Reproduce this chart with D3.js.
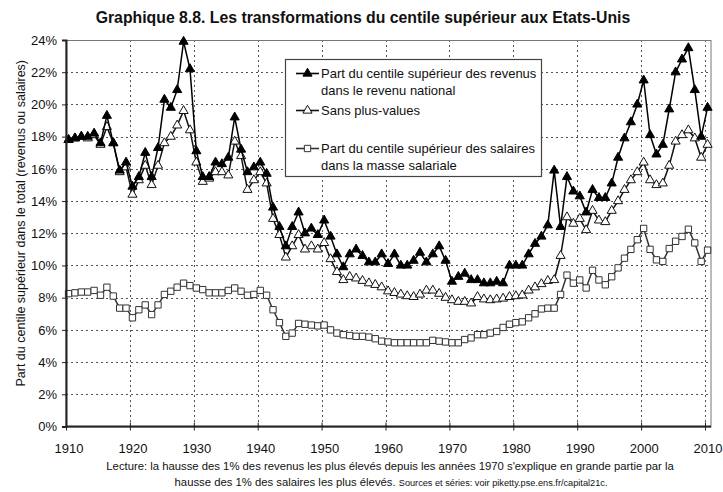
<!DOCTYPE html>
<html><head><meta charset="utf-8">
<script src="https://cdn.jsdelivr.net/npm/d3@7/dist/d3.min.js"></script>
<style>
body{margin:0;background:#fff}
svg{display:block;font-family:"Liberation Sans",Arial,sans-serif}
</style>
</head><body>
<svg id="chart" width="723" height="492"></svg>
<script>
// ---------- DATA ----------
const startYear = 1910, endYear = 2010;
const years = d3.range(startYear, endYear + 1);

// Part du centile supérieur des revenus dans le revenu national (%)
const topIncome = [
 17.8,17.9,18.0,18.0,18.2,17.6,19.3,17.6,15.9,16.4,
 14.9,15.5,17.0,15.5,17.3,20.3,19.8,20.9,23.9,22.2,
 17.1,15.5,15.5,16.4,16.3,16.7,19.2,17.2,15.8,16.1,
 16.4,15.7,13.6,12.4,11.2,12.4,13.3,12.0,12.3,11.9,
 12.8,11.8,10.7,9.9,10.7,11.0,10.6,10.2,10.2,10.7,
 10.1,10.7,10.0,10.0,10.3,10.8,10.2,10.7,11.2,10.3,
 9.0,9.3,9.5,9.1,9.1,8.9,8.9,9.0,8.9,10.0,
 10.0,10.0,10.7,11.35,11.8,12.5,15.9,12.4,15.5,14.6,
 14.3,13.3,14.7,14.2,14.2,15.1,16.7,17.9,18.9,20.0,
 21.5,18.1,16.9,17.5,19.7,22.0,22.8,23.5,20.9,18.0,
 19.8
];
// Sans plus-values (%)
const noCapitalGains = [
 17.8,17.9,18.0,17.9,18.1,17.5,18.6,17.6,15.8,16.1,
 14.4,15.3,16.2,15.0,16.2,17.6,18.0,18.7,19.6,18.4,
 16.4,15.2,15.4,15.8,15.8,15.6,17.7,16.8,14.7,15.3,
 15.8,15.1,12.9,11.9,10.5,11.2,11.9,11.0,11.2,11.0,
 11.4,10.4,9.6,9.1,9.3,9.2,9.05,8.9,8.8,8.65,
 8.4,8.3,8.2,8.1,8.05,8.2,8.45,8.45,8.25,8.0,
 7.85,7.75,7.75,7.65,8.05,7.9,7.85,7.9,7.95,8.05,
 8.1,8.15,8.45,8.65,8.85,9.05,9.1,10.6,13.0,12.6,
 12.9,12.2,13.4,12.8,12.7,13.4,14.0,14.7,15.3,15.8,
 16.4,15.3,15.0,15.1,16.2,17.7,18.1,18.4,17.9,16.7,
 17.5
];
// Part du centile supérieur des salaires dans la masse salariale (%)
const topWages = [
 8.25,8.3,8.35,8.35,8.45,8.15,8.65,8.1,7.35,7.35,
 6.75,7.25,7.55,6.95,7.55,8.2,8.4,8.65,8.9,8.75,
 8.6,8.5,8.3,8.3,8.3,8.45,8.6,8.4,8.15,8.2,
 8.45,8.15,7.25,6.45,5.6,5.8,6.4,6.35,6.3,6.25,
 6.3,6.0,5.8,5.7,5.65,5.6,5.6,5.55,5.45,5.3,
 5.25,5.2,5.2,5.2,5.2,5.2,5.2,5.35,5.3,5.25,
 5.2,5.2,5.4,5.5,5.7,5.7,5.8,5.9,6.15,6.35,
 6.45,6.5,6.75,7.0,7.3,7.35,7.35,8.2,9.4,8.9,
 9.1,8.6,9.7,9.1,8.8,9.3,9.85,10.45,11.0,11.6,
 12.3,11.0,10.35,10.25,11.05,11.5,11.8,12.25,11.4,10.25,
 10.95
];

const yTickValues = [0,2,4,6,8,10,12,14,16,18,20,22,24];
const xTickValues = [1910,1920,1930,1940,1950,1960,1970,1980,1990,2000,2010];

const titleText = "Graphique 8.8. Les transformations du centile supérieur aux Etats-Unis";
const yAxisTitle = "Part du centile supérieur dans le total (revenus ou salaires)";
const captionLine1 = "Lecture: la hausse des 1% des revenus les plus élevés depuis les années 1970 s'explique en grande partie par la";
const captionLine2a = "hausse des 1% des salaires les plus élevés. ";
const captionLine2b = "Sources et séries: voir piketty.pse.ens.fr/capital21c.";

const legendLabels = [
  ["Part du centile supérieur des revenus", "dans le revenu national"],
  ["Sans plus-values"],
  ["Part du centile supérieur des salaires", "dans la masse salariale"]
];

// ---------- LAYOUT ----------
const svg = d3.select("#chart");
const plot = {left: 66, right: 711, top: 40, bottom: 426.5};
const x = d3.scaleLinear().domain([1910, 2010]).range([66, 705]);
const catOffset = 0.4; // markers sit slightly right of the decade gridlines
const xd = yr => x(yr + catOffset);
const y = d3.scaleLinear().domain([0, 24]).range([plot.bottom, plot.top]);

// title
svg.append("text").attr("x", 363).attr("y", 23).attr("text-anchor", "middle")
  .attr("font-weight", "bold").attr("font-size", 15.8).attr("fill", "#111").text(titleText);

// gridlines
const grid = svg.append("g").attr("stroke", "#555").attr("stroke-width", 1).attr("stroke-dasharray", "2,3");
grid.selectAll("line.h").data(yTickValues.filter(v => v > 0 && v < 24)).join("line")
  .attr("x1", plot.left).attr("x2", plot.right)
  .attr("y1", d => Math.round(y(d)) + 0.5).attr("y2", d => Math.round(y(d)) + 0.5);
grid.selectAll("line.v").data(xTickValues.filter(v => v > 1910)).join("line")
  .attr("y1", plot.top).attr("y2", plot.bottom)
  .attr("x1", d => Math.round(x(d)) + 0.5).attr("x2", d => Math.round(x(d)) + 0.5);

// plot frame (top/right thin)
svg.append("rect").attr("x", plot.left).attr("y", plot.top + 0.5)
  .attr("width", plot.right - plot.left).attr("height", plot.bottom - plot.top)
  .attr("fill", "none").attr("stroke", "#777").attr("stroke-width", 1);

// series
const series = [
  {values: topWages, symbol: d3.symbolSquare, size: 40, fill: "#fff", stroke: "#333"},
  {values: noCapitalGains, symbol: d3.symbolTriangle, size: 36, fill: "#fff", stroke: "#111"},
  {values: topIncome, symbol: d3.symbolTriangle, size: 36, fill: "#000", stroke: "#000"}
];
const line = d3.line().x((d, i) => xd(years[i])).y(d => y(d));
series.forEach(s => {
  svg.append("path").datum(s.values).attr("d", line)
    .attr("fill", "none").attr("stroke", s.stroke).attr("stroke-width", 1.5);
  svg.append("g").selectAll("path").data(s.values).join("path")
    .attr("transform", (d, i) => `translate(${xd(years[i])},${y(d)})`)
    .attr("d", d3.symbol(s.symbol, s.size))
    .attr("fill", s.fill).attr("stroke", s.stroke).attr("stroke-width", 1);
});

// axes (left + bottom thick)
const yAxis = d3.axisLeft(y).tickValues(yTickValues).tickFormat(d => d + "%").tickSize(4).tickPadding(5);
const gy = svg.append("g").attr("transform", `translate(${plot.left},0)`).call(yAxis);
gy.select(".domain").attr("stroke", "#222").attr("stroke-width", 2);
gy.selectAll(".tick line").attr("stroke", "#222");
gy.selectAll("text").attr("font-size", 13).attr("fill", "#111").attr("font-family", "Liberation Sans, Arial, sans-serif");

const xAxis = d3.axisBottom(x).tickValues(xTickValues).tickFormat(d3.format("d")).tickSize(4).tickPadding(13);
const gx = svg.append("g").attr("transform", `translate(0,${plot.bottom})`).call(xAxis);
gx.select(".domain").attr("d", `M${plot.left},0H${plot.right}`).attr("stroke", "#222").attr("stroke-width", 2);
gx.selectAll(".tick line").attr("y1", -4).attr("stroke", "#222");
gx.selectAll("text").attr("x", x(1910 + catOffset) - x(1910))
  .attr("font-size", 13).attr("fill", "#111").attr("font-family", "Liberation Sans, Arial, sans-serif");

// y axis title
svg.append("text").attr("transform", `translate(25,${(plot.top + plot.bottom) / 2 - 10}) rotate(-90)`)
  .attr("text-anchor", "middle").attr("font-size", 12.5).attr("fill", "#111").text(yAxisTitle);

// legend
const lg = svg.append("g");
lg.append("rect").attr("x", 285.5).attr("y", 59.5).attr("width", 256).attr("height", 117)
  .attr("fill", "#fff").attr("stroke", "#444").attr("stroke-width", 1.2);
const legendRows = [73.5, 110.5, 148.5];
const legendOrder = [series[2], series[1], series[0]];
legendOrder.forEach((s, k) => {
  const cy = legendRows[k];
  lg.append("line").attr("x1", 296).attr("x2", 319).attr("y1", cy).attr("y2", cy)
    .attr("stroke", s.stroke).attr("stroke-width", 1.6);
  lg.append("path").attr("transform", `translate(307.5,${cy})`)
    .attr("d", d3.symbol(s.symbol, s.size)).attr("fill", s.fill).attr("stroke", s.stroke);
  legendLabels[k].forEach((t, j) => {
    lg.append("text").attr("x", 321).attr("y", cy + 4.5 + j * 16.7)
      .attr("font-size", 13).attr("fill", "#111").text(t);
  });
});

// caption
svg.append("text").attr("x", 390).attr("y", 470).attr("text-anchor", "middle")
  .attr("font-size", 11.3).attr("fill", "#111").text(captionLine1);
const c2 = svg.append("text").attr("x", 391).attr("y", 485.5).attr("text-anchor", "middle").attr("fill", "#111");
c2.append("tspan").attr("font-size", 11.3).text(captionLine2a);
c2.append("tspan").attr("font-size", 9.2).text(captionLine2b);
</script>
</body></html>
